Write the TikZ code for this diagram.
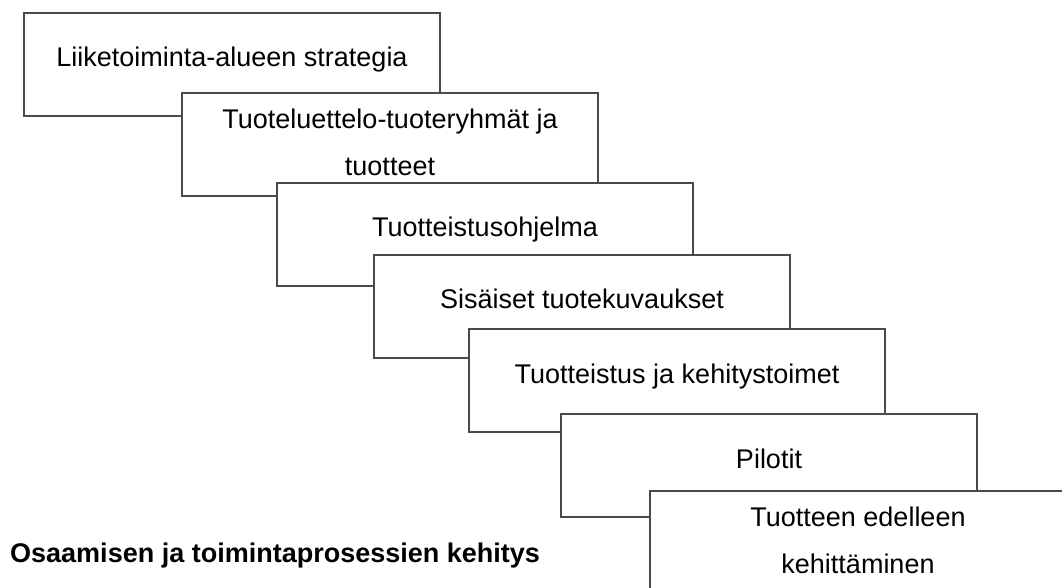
\documentclass[tikz,border=0pt]{standalone}
\usepackage{fontspec}
\setmainfont{Liberation Sans}
\usetikzlibrary{calc}
\definecolor{linec}{HTML}{4A4A4A}
\begin{document}
\begin{tikzpicture}[x=1pt,y=-1pt,
  stage/.style={draw=linec, line width=1.5pt, fill=white, minimum width=416pt,
    minimum height=103pt, anchor=north west, inner sep=0pt, outer sep=0pt},
  lbl/.style={font=\fontsize{27}{47}\selectfont, anchor=base, text=black, inner sep=0pt},
  note/.style={font=\bfseries\fontsize{27}{32}\selectfont, anchor=base west, text=black, inner sep=0pt}]
\useasboundingbox (0,0) rectangle (1062,587);
\clip (0,0) rectangle (1062,587);
\fill[white] (0,0) rectangle (1062,587);
\node[stage] (b1) at (24,13) {};
\node[lbl] (t1) at ($(b1.north)+(0,53)$) {Liiketoiminta-alueen strategia};
\node[stage] (b2) at (182,93) {};
\node[lbl] (t2a) at ($(b2.north)+(0,35)$) {Tuoteluettelo-tuoteryhmät ja};
\node[lbl] (t2b) at ($(b2.north)+(0,82)$) {tuotteet};
\node[stage] (b3) at (277,183) {};
\node[lbl] (t3) at ($(b3.north)+(0,53)$) {Tuotteistusohjelma};
\node[stage] (b4) at (374,255) {};
\node[lbl] (t4) at ($(b4.north)+(0,53)$) {Sisäiset tuotekuvaukset};
\node[stage] (b5) at (469,329) {};
\node[lbl] (t5) at ($(b5.north)+(0,54)$) {Tuotteistus ja kehitystoimet};
\node[stage] (b6) at (561,414) {};
\node[lbl] (t6) at ($(b6.north)+(0,54)$) {Pilotit};
\node[stage] (b7) at (650,491) {};
\node[lbl] (t7a) at ($(b7.north)+(0,35)$) {Tuotteen edelleen};
\node[lbl] (t7b) at ($(b7.north)+(0,82)$) {kehittäminen};
\node[note] (n1) at (10,562) {Osaamisen ja toimintaprosessien kehitys};
\end{tikzpicture}
\end{document}
